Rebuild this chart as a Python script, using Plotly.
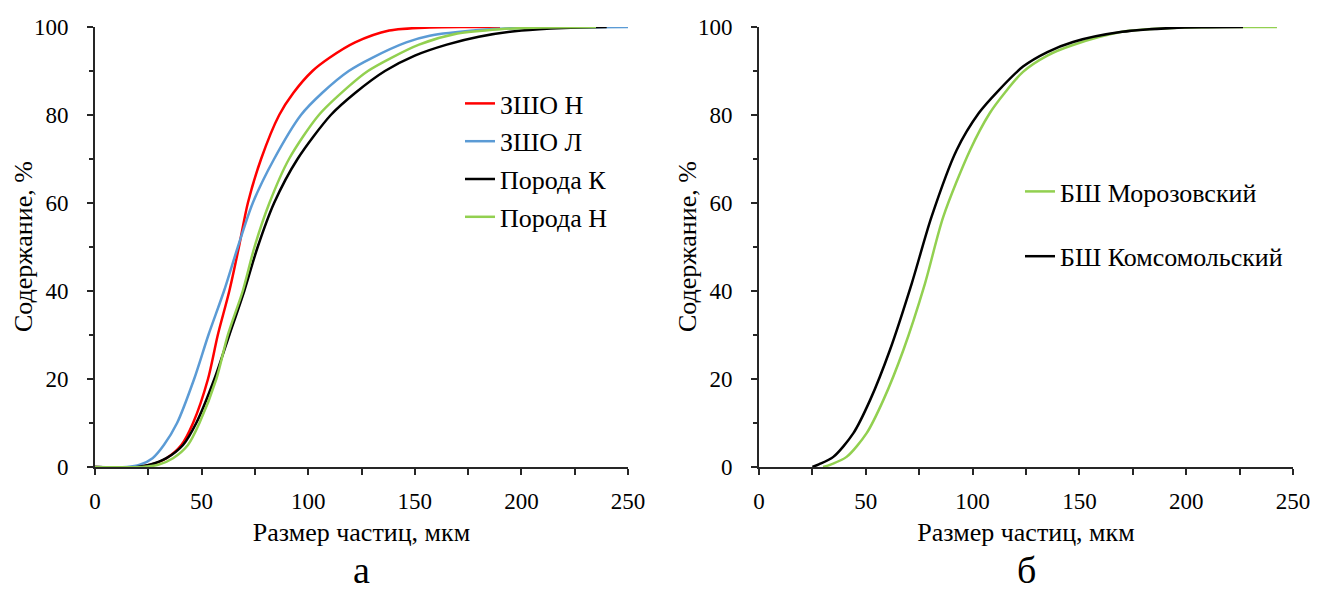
import plotly.graph_objects as go

# ---- data (left panel "а") ----
zsho_n_x = [0, 20, 26, 33.5, 40.5, 46, 53, 57.6, 63, 67.5, 71.7, 77.9, 86.4, 93, 102, 110, 122, 138, 157, 175, 190]
zsho_n_y = [0, 0, 0.5, 2, 5, 10, 20, 30, 40, 50, 60, 70, 80, 85, 90, 93, 96.5, 99.2, 99.9, 100, 100]

zsho_l_x = [0, 15, 21, 27, 32.3, 38.5, 46.5, 53.2, 60.5, 67, 74, 84, 96.6, 106.5, 119, 130, 146, 157, 180, 200, 250]
zsho_l_y = [0, 0, 0.5, 2, 5, 10, 20, 30, 40, 50, 60, 70, 80, 85, 90, 93, 96.5, 98, 99.3, 99.8, 100]

poroda_k_x = [0, 20, 25.7, 33.5, 41.3, 47.5, 56, 63, 70, 76.3, 84, 95, 110.6, 122, 136, 150, 165, 180, 200, 220, 240]
poroda_k_y = [0, 0, 0.5, 2, 5, 10, 20, 30, 40, 50, 60, 70, 80, 85, 90, 93.5, 96, 97.8, 99.2, 99.8, 100]

poroda_n_x = [0, 22, 29.6, 36.6, 43.6, 49, 56.9, 62.3, 69.3, 74.8, 81.8, 91, 105, 119, 128, 139, 152, 170, 190, 210, 235]
poroda_n_y = [0, 0, 0.5, 2, 5, 10, 20, 30, 40, 50, 60, 70, 80, 86.5, 90, 93, 96, 98.5, 99.5, 99.9, 100]

# ---- data (right panel "б") ----
komsomol_x = [25, 28, 34.8, 44.2, 52, 61.3, 71.5, 80.8, 92.5, 103, 112, 123.6, 135, 147, 170, 194, 210, 226.6]
komsomol_y = [0, 0.6, 2.3, 7.7, 15.2, 26.6, 41.7, 56.9, 72, 80.5, 85.5, 91, 94.3, 96.6, 98.9, 99.8, 99.95, 100]

morozov_x = [30, 33.8, 41, 50.4, 58.2, 67.6, 77.7, 86.3, 98.8, 108, 115, 123.6, 135, 147, 170, 194, 220, 242.5]
morozov_y = [0, 0.6, 2.3, 7.7, 15.2, 26.6, 41.7, 56.9, 72, 80.4, 85, 89.8, 93.5, 95.9, 98.9, 99.8, 100, 100]

x_ticks = [0, 50, 100, 150, 200, 250]
y_ticks = [0, 20, 40, 60, 80, 100]
x_title = "Размер частиц, мкм"
y_title = "Содержание, %"
panel_labels = ["а", "б"]

RED = "#FF0000"
BLUE = "#5B9BD5"
BLACK = "#000000"
GREEN = "#92D050"
AX = "#262626"
FONT = "Liberation Serif, Times New Roman, serif"

fig = go.Figure()

def add(x, y, name, color, xa, ya, legend, group):
    fig.add_trace(go.Scatter(
        x=x, y=y, name=name, mode="lines",
        line=dict(color=color, width=2.5, shape="spline", smoothing=0.8),
        xaxis=xa, yaxis=ya, legend=legend, legendgroup=group,
        cliponaxis=False,
    ))

add(zsho_n_x, zsho_n_y, "ЗШО Н", RED, "x", "y", "legend", "a1")
add(zsho_l_x, zsho_l_y, "ЗШО Л", BLUE, "x", "y", "legend", "a2")
add(poroda_k_x, poroda_k_y, "Порода К", BLACK, "x", "y", "legend", "a3")
add(poroda_n_x, poroda_n_y, "Порода Н", GREEN, "x", "y", "legend", "a4")
add(morozov_x, morozov_y, "БШ Морозовский", GREEN, "x2", "y2", "legend2", "b1")
add(komsomol_x, komsomol_y, "БШ Комсомольский", BLACK, "x2", "y2", "legend2", "b2")

W, H = 1317, 591
ybot = (H - 467) / H
ytop = (H - 27) / H
dom1 = [95 / W, 628 / W]
dom2 = [759 / W, 1293 / W]

axis_common = dict(
    showline=True, linecolor=AX, linewidth=2,
    ticks="outside", ticklen=6, tickwidth=2, tickcolor=AX,
    showgrid=False, zeroline=False, automargin=False,
    tickfont=dict(family=FONT, size=23, color="black"),
    ticklabelstandoff=6,
)

xa = dict(axis_common, range=[0, 250], tickvals=x_ticks,
          minor=dict(dtick=25, ticks="outside", ticklen=6, tickwidth=2, tickcolor=AX),
          title=dict(text=x_title, font=dict(family=FONT, size=26, color="black"), standoff=10))
ya = dict(axis_common, range=[0, 100], tickvals=y_ticks,
          minor=dict(dtick=10, ticks="outside", ticklen=4, tickwidth=2, tickcolor=AX),
          ticklabelstandoff=14)

annotations = []
for dom, lab, ytx in [(dom1, panel_labels[0], 23), (dom2, panel_labels[1], 687)]:
    annotations.append(dict(text=lab, x=(dom[0] + dom[1]) / 2, y=0, xref="paper", yref="paper",
                            showarrow=False, font=dict(family=FONT, size=38, color="black"),
                            xanchor="center", yanchor="bottom", yshift=-2))
    annotations.append(dict(text=y_title, x=ytx / W, y=(ybot + ytop) / 2, xref="paper", yref="paper",
                            showarrow=False, textangle=-90,
                            font=dict(family=FONT, size=26, color="black"),
                            xanchor="center", yanchor="middle"))

fig.update_layout(
    width=W, height=H,
    margin=dict(l=0, r=0, t=0, b=0, autoexpand=False),
    paper_bgcolor="white", plot_bgcolor="white",
    font=dict(family=FONT, color="black"),
    xaxis=dict(xa, domain=dom1, anchor="y"),
    yaxis=dict(ya, domain=[ybot, ytop], anchor="x"),
    xaxis2=dict(xa, domain=dom2, anchor="y2"),
    yaxis2=dict(ya, domain=[ybot, ytop], anchor="x2"),
    legend=dict(x=460 / W, y=(H - 80) / H, xanchor="left", yanchor="top",
                font=dict(family=FONT, size=26, color="black"),
                bgcolor="rgba(0,0,0,0)", traceorder="grouped", tracegroupgap=1,
                itemwidth=30),
    legend2=dict(x=1020 / W, y=(H - 168) / H, xanchor="left", yanchor="top",
                 font=dict(family=FONT, size=26, color="black"),
                 bgcolor="rgba(0,0,0,0)", traceorder="grouped", tracegroupgap=28,
                 itemwidth=30),
    showlegend=True,
    annotations=annotations,
)

fig.write_html("out.html")
